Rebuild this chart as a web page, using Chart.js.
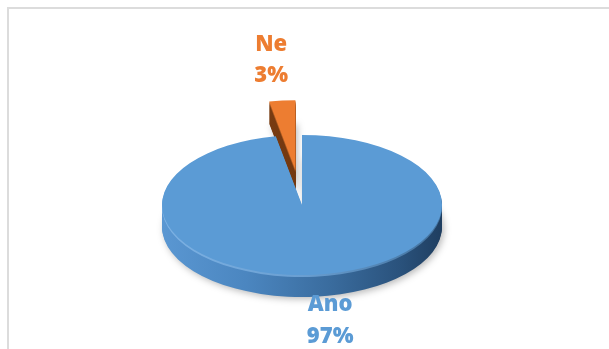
<!DOCTYPE html>
<html>
<head>
<meta charset="utf-8">
<script src="https://cdn.jsdelivr.net/npm/chart.js@4/dist/chart.umd.min.js"></script>
<style>
  html, body { margin: 0; padding: 0; background: #ffffff; }
  #wrap { position: relative; width: 609px; height: 349px; }
</style>
</head>
<body>
<div id="wrap"><canvas id="chart" width="609" height="349"></canvas></div>
<script>
// Answers and their counts (percent)
const categories = ['Ano', 'Ne'];
const values = [97, 3];
const topColors = ['#5B9BD5', '#ED7D31'];
const labelColors = ['#5B9BD5', '#ED7D31'];

// 3D look of the pie
const TILT = 0.5;          // vertical squash of the disc
const DEPTH = 22;          // thickness of the disc, px
const EXPLODE = [0, 70];   // how far each slice is pulled out
const SIDE_STOPS = [
  [[0, '#5a97d2'], [0.3, '#4b86c0'], [0.6, '#3a6c9e'], [0.85, '#2a527c'], [1, '#1f3e60']],
  [[0, '#8a4617'], [1, '#5c2b0a']]
];
const RIM_STOPS = [
  [[0, '#7db2e4'], [0.5, '#6a9fd2'], [1, '#41709c']],
  [[0, '#c06526'], [1, '#8a4617']]
];
const LABEL_NUDGE = [{ x: 15, y: 8.5 }, { x: -11, y: -24.5 }];
const LINE_H = 31.5;

function gradientX(ctx, cx, r, stops) {
  const g = ctx.createLinearGradient(cx - r, 0, cx + r, 0);
  stops.forEach(([p, c]) => g.addColorStop(p, c));
  return g;
}

// Let the arc element paint itself with another fill
function paintArc(ctx, arc, fill) {
  const ghost = Object.create(arc);
  ghost.options = Object.assign({}, arc.options, { backgroundColor: fill, borderWidth: 0 });
  arc.draw.call(ghost, ctx);
}

const pie3d = {
  id: 'pie3d',
  beforeDraw(chart) {
    const ctx = chart.ctx;
    ctx.save();
    ctx.fillStyle = '#dcdcdc';
    ctx.fillRect(7, 7, chart.width - 7, 2);
    ctx.fillRect(7, 7, 2, chart.height - 7);
    ctx.restore();
  },
  beforeDatasetDraw(chart, args) {
    const ctx = chart.ctx;
    const arcs = args.meta.data;
    const cx = arcs[0].x, cy = arcs[0].y;
    ctx.save();
    ctx.translate(cx, cy);
    ctx.scale(1, TILT);
    ctx.translate(-cx, -cy);
    // slices pulled further out sit at the back, paint them first
    const order = arcs.map((a, i) => i).sort((a, b) => EXPLODE[b] - EXPLODE[a]);
    order.forEach(i => {
      const arc = arcs[i];
      const mid = (arc.startAngle + arc.endAngle) / 2;
      ctx.save();
      ctx.translate(Math.cos(mid) * EXPLODE[i], Math.sin(mid) * EXPLODE[i]);
      const side = gradientX(ctx, cx, arc.outerRadius, SIDE_STOPS[i]);
      const rim = gradientX(ctx, cx, arc.outerRadius, RIM_STOPS[i]);
      for (let d = DEPTH; d >= 1; d--) {
        ctx.save();
        ctx.translate(0, d / TILT);
        if (d === DEPTH) {
          ctx.shadowColor = 'rgba(0,0,0,0.28)';
          ctx.shadowBlur = 7;
          ctx.shadowOffsetX = 2;
          ctx.shadowOffsetY = 2;
        }
        paintArc(ctx, arc, d <= 2 ? rim : side);
        ctx.restore();
      }
      arc.draw(ctx);
      ctx.restore();
    });
    ctx.restore();
    return false;
  },
  afterDatasetsDraw(chart) {
    const ctx = chart.ctx;
    const arcs = chart.getDatasetMeta(0).data;
    const total = values.reduce((s, v) => s + v, 0);
    ctx.save();
    ctx.font = '800 22px "Open Sans"';
    ctx.textAlign = 'center';
    ctx.textBaseline = 'middle';
    arcs.forEach((arc, i) => {
      const mid = (arc.startAngle + arc.endAngle) / 2;
      const r = arc.outerRadius + EXPLODE[i];
      const ax = arc.x + Math.cos(mid) * r;
      const ay = arc.y + Math.sin(mid) * r * TILT;
      const lines = [categories[i], Math.round(values[i] / total * 100) + '%'];
      const down = Math.sin(mid) > 0;
      ctx.fillStyle = labelColors[i];
      lines.forEach((t, k) => {
        const y = down
          ? ay + DEPTH + LABEL_NUDGE[i].y + k * LINE_H
          : ay + LABEL_NUDGE[i].y - (lines.length - 1 - k) * LINE_H;
        ctx.fillText(t, ax + LABEL_NUDGE[i].x, y);
      });
    });
    ctx.restore();
  }
};

new Chart(document.getElementById('chart'), {
  type: 'pie',
  data: {
    labels: categories,
    datasets: [{
      data: values,
      backgroundColor: topColors,
      borderWidth: 0,
      radius: 140,
      clip: false
    }]
  },
  options: {
    responsive: false,
    animation: false,
    devicePixelRatio: 1,
    layout: { padding: { left: 0, right: 5, top: 61, bottom: 0 } },
    plugins: {
      legend: { display: false },
      tooltip: { enabled: false }
    }
  },
  plugins: [pie3d]
});
</script>
</body>
</html>
